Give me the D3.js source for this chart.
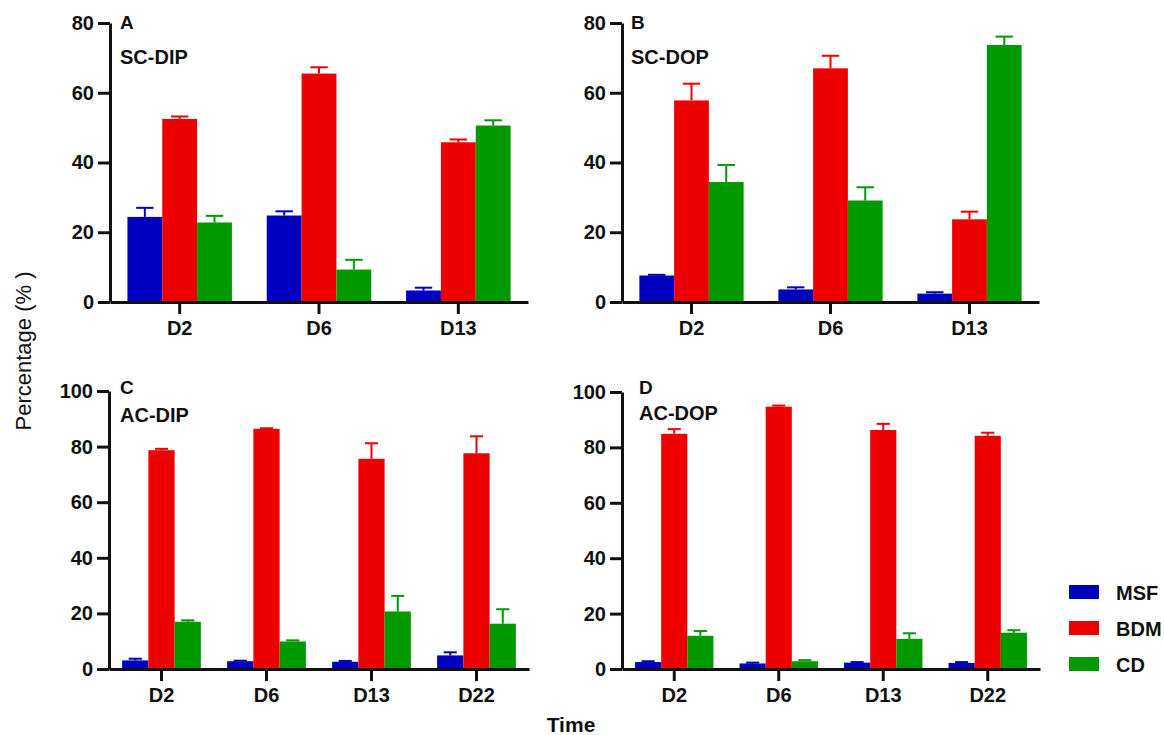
<!DOCTYPE html>
<html>
<head>
<meta charset="utf-8">
<script src="https://cdn.jsdelivr.net/npm/d3@7"></script>
<style>
  body { margin: 0; background: #fff; }
  text { font-family: "Liberation Sans", Arial, sans-serif; fill: #111; }
</style>
</head>
<body>
<div id="chart"></div>
<script>
const width = 1164, height = 735;

// Categories
const seriesNames = ["MSF", "BDM", "CD"];
const daysSC = ["D2", "D6", "D13"];
const daysAC = ["D2", "D6", "D13", "D22"];

// Panel A: SC-DIP (mean, error)
const msfA = [24.4, 24.8, 3.3], msfAErr = [2.6, 1.2, 0.8];
const bdmA = [52.5, 65.5, 45.8], bdmAErr = [0.7, 1.8, 0.8];
const cdA = [22.8, 9.3, 50.6], cdAErr = [1.9, 2.8, 1.5];

// Panel B: SC-DOP
const msfB = [7.6, 3.6, 2.4], msfBErr = [0.2, 0.6, 0.4];
const bdmB = [57.8, 67.0, 23.7], bdmBErr = [4.8, 3.6, 2.2];
const cdB = [34.4, 29.1, 73.7], cdBErr = [4.9, 3.8, 2.4];

// Panel C: AC-DIP
const msfC = [3.1, 2.8, 2.6, 4.9], msfCErr = [0.6, 0.2, 0.3, 1.1];
const bdmC = [78.7, 86.4, 75.6, 77.6], bdmCErr = [0.5, 0.2, 5.6, 6.1];
const cdC = [17.0, 9.9, 20.7, 16.3], cdCErr = [0.5, 0.4, 5.6, 5.2];

// Panel D: AC-DOP
const msfD = [2.5, 2.0, 2.3, 2.2], msfDErr = [0.3, 0.3, 0.2, 0.3];
const bdmD = [84.9, 94.7, 86.3, 84.2], bdmDErr = [1.7, 0.4, 2.2, 1.1];
const cdD = [12.0, 2.8, 10.9, 13.1], cdDErr = [1.7, 0.4, 2.0, 0.9];

const yTicksSC = [0, 20, 40, 60, 80];
const yTicksAC = [0, 20, 40, 60, 80, 100];

const color = d3.scaleOrdinal()
    .domain(seriesNames)
    .range(["#0000c0", "#ee0000", "#009900"]);

const svg = d3.select("#chart")
    .append("svg")
    .attr("width", width)
    .attr("height", height);

function drawPanel(p) {
    const g = svg.append("g");

    const x = d3.scaleBand()
        .domain(p.days)
        .range([p.x0, p.x1])
        .paddingInner(0.25)
        .paddingOuter(0.125);

    const xInner = d3.scaleBand()
        .domain(seriesNames)
        .range([0, x.bandwidth()]);

    const y = d3.scaleLinear()
        .domain([0, p.yMax])
        .range([p.y0, p.y1]);

    const rows = [];
    p.days.forEach((day, i) => {
        seriesNames.forEach((s, j) => {
            rows.push({ day, series: s, value: p.values[j][i], err: p.errors[j][i] });
        });
    });

    // error bars (drawn first, so bar tops cover their bases)
    const cap = xInner.bandwidth() * 0.5;
    const eb = g.selectAll(".err")
        .data(rows)
        .join("g")
        .attr("class", "err")
        .style("stroke", d => color(d.series))
        .style("stroke-width", 2);
    eb.append("line")
        .attr("x1", d => x(d.day) + xInner(d.series) + xInner.bandwidth() / 2)
        .attr("x2", d => x(d.day) + xInner(d.series) + xInner.bandwidth() / 2)
        .attr("y1", d => y(d.value))
        .attr("y2", d => y(d.value + d.err));
    eb.append("line")
        .attr("x1", d => x(d.day) + xInner(d.series) + xInner.bandwidth() / 2 - cap / 2)
        .attr("x2", d => x(d.day) + xInner(d.series) + xInner.bandwidth() / 2 + cap / 2)
        .attr("y1", d => y(d.value + d.err))
        .attr("y2", d => y(d.value + d.err));

    g.selectAll(".bar")
        .data(rows)
        .join("rect")
        .attr("class", "bar")
        .attr("x", d => x(d.day) + xInner(d.series))
        .attr("width", xInner.bandwidth())
        .attr("y", d => y(d.value))
        .attr("height", d => y(0) - y(d.value))
        .style("fill", d => color(d.series));

    // axes
    const yAxis = g.append("g")
        .attr("transform", `translate(${p.x0},0)`)
        .call(d3.axisLeft(y).tickValues(p.yTicks).tickSize(12).tickSizeOuter(0).tickPadding(4));

    const xAxis = g.append("g")
        .attr("transform", `translate(0,${p.y0})`)
        .call(d3.axisBottom(x).tickSize(12).tickSizeOuter(0).tickPadding(7));

    [xAxis, yAxis].forEach(a => {
        a.selectAll("path, line").style("stroke", "#111").style("stroke-width", 3);
        a.selectAll("text")
            .style("font-size", "20px")
            .style("font-weight", "bold")
            .style("fill", "#111");
    });

    g.append("text")
        .attr("x", p.letterX)
        .attr("y", p.letterY)
        .style("font-size", "19px")
        .style("font-weight", "bold")
        .text(p.letter);

    g.append("text")
        .attr("x", p.letterX)
        .attr("y", p.titleY)
        .style("font-size", "20px")
        .style("font-weight", "bold")
        .text(p.title);
}

drawPanel({
    letter: "A", title: "SC-DIP", days: daysSC,
    values: [msfA, bdmA, cdA], errors: [msfAErr, bdmAErr, cdAErr],
    yMax: 80, yTicks: yTicksSC,
    x0: 110, x1: 528, y0: 302, y1: 23,
    letterX: 120, letterY: 29, titleY: 64
});

drawPanel({
    letter: "B", title: "SC-DOP", days: daysSC,
    values: [msfB, bdmB, cdB], errors: [msfBErr, bdmBErr, cdBErr],
    yMax: 80, yTicks: yTicksSC,
    x0: 622, x1: 1039, y0: 302, y1: 23,
    letterX: 631, letterY: 29, titleY: 64
});

drawPanel({
    letter: "C", title: "AC-DIP", days: daysAC,
    values: [msfC, bdmC, cdC], errors: [msfCErr, bdmCErr, cdCErr],
    yMax: 100, yTicks: yTicksAC,
    x0: 109, x1: 529, y0: 669, y1: 391,
    letterX: 120, letterY: 394, titleY: 422
});

drawPanel({
    letter: "D", title: "AC-DOP", days: daysAC,
    values: [msfD, bdmD, cdD], errors: [msfDErr, bdmDErr, cdDErr],
    yMax: 100, yTicks: yTicksAC,
    x0: 622, x1: 1040, y0: 669, y1: 392,
    letterX: 639, letterY: 394, titleY: 420
});

// axis titles
svg.append("text")
    .attr("transform", "translate(31,351) rotate(-90)")
    .attr("text-anchor", "middle")
    .style("font-size", "22px")
    .text("Percentage (% )");

svg.append("text")
    .attr("x", 571)
    .attr("y", 732)
    .attr("text-anchor", "middle")
    .style("font-size", "21px")
    .style("font-weight", "bold")
    .text("Time");

// legend
const legend = svg.append("g")
    .selectAll("g")
    .data(seriesNames)
    .join("g")
    .attr("transform", (d, i) => `translate(1069,${585 + i * 36})`);

legend.append("rect")
    .attr("width", 30)
    .attr("height", 14)
    .style("fill", d => color(d));

legend.append("text")
    .attr("x", 47)
    .attr("y", 15)
    .style("font-size", "20px")
    .style("font-weight", "bold")
    .text(d => d);
</script>
</body>
</html>
